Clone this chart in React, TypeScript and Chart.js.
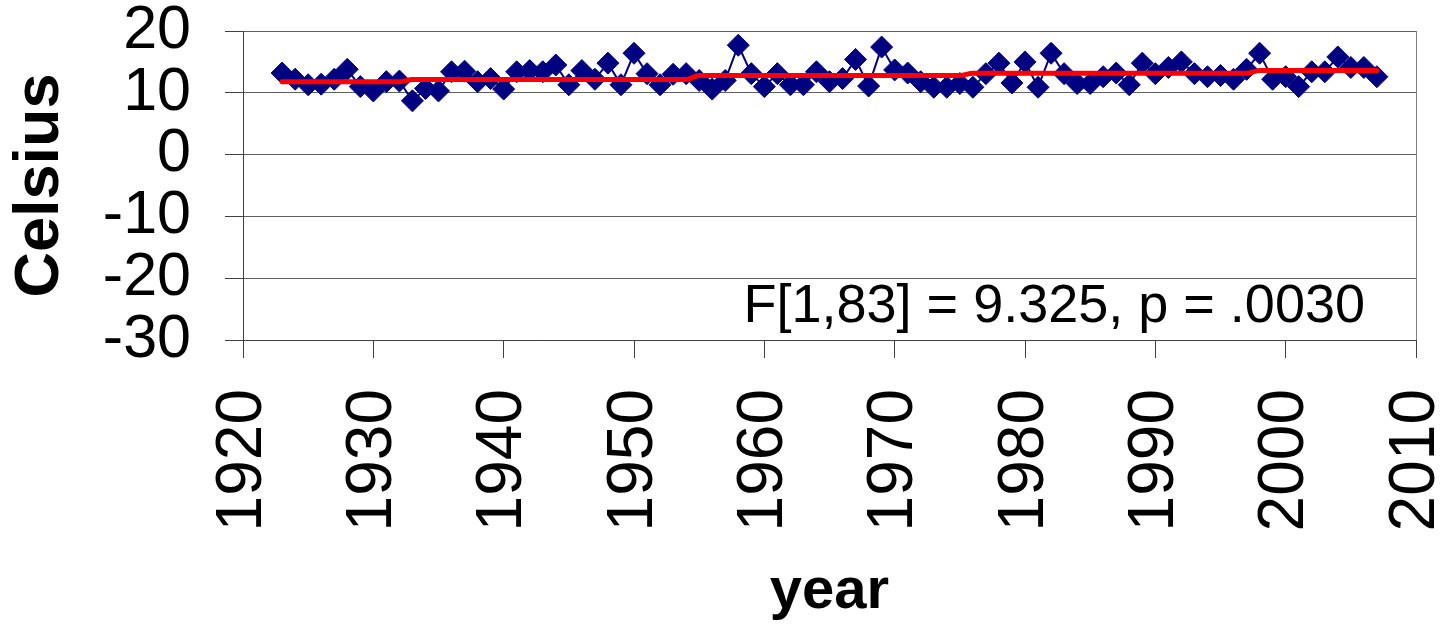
import React, { useEffect, useRef } from 'react';
import { Chart, registerables } from 'chart.js';

Chart.register(...registerables);

const YEARS = [
  1923, 1924, 1925, 1926, 1927, 1928, 1929, 1930, 1931, 1932,
  1933, 1934, 1935, 1936, 1937, 1938, 1939, 1940, 1941, 1942,
  1943, 1944, 1945, 1946, 1947, 1948, 1949, 1950, 1951, 1952,
  1953, 1954, 1955, 1956, 1957, 1958, 1959, 1960, 1961, 1962,
  1963, 1964, 1965, 1966, 1967, 1968, 1969, 1970, 1971, 1972,
  1973, 1974, 1975, 1976, 1977, 1978, 1979, 1980, 1981, 1982,
  1983, 1984, 1985, 1986, 1987, 1988, 1989, 1990, 1991, 1992,
  1993, 1994, 1995, 1996, 1997, 1998, 1999, 2000, 2001, 2002,
  2003, 2004, 2005, 2006, 2007,
];

const TEMPS = [
  13.2, 12.2, 11.3, 11.4, 12.2, 13.8, 11.0, 10.3, 11.8, 11.9,
  8.7, 10.7, 10.3, 13.4, 13.5, 11.8, 12.3, 10.6, 13.4, 13.6,
  13.4, 14.5, 11.3, 13.6, 12.2, 14.8, 11.3, 16.4, 13.1, 11.3,
  13.0, 13.1, 12.0, 10.6, 12.0, 17.7, 13.1, 11.0, 13.1, 11.3,
  11.3, 13.4, 11.8, 12.3, 15.4, 11.1, 17.4, 13.7, 13.2, 11.8,
  10.9, 10.9, 11.5, 10.9, 13.1, 14.8, 11.6, 15.0, 10.9, 16.4,
  13.1, 11.5, 11.5, 12.6, 13.2, 11.3, 14.8, 13.1, 14.1, 15.0,
  13.1, 12.6, 12.8, 12.2, 13.8, 16.4, 12.2, 12.6, 11.0, 13.4,
  13.4, 15.8, 14.1, 14.1, 12.6,
];

const TREND = [
  11.8, 11.8, 11.8, 11.8, 11.8, 11.8, 11.8, 11.8, 11.8, 11.8,
  12.15, 12.15, 12.15, 12.15, 12.15, 12.15, 12.15, 12.15, 12.15, 12.15,
  12.15, 12.15, 12.15, 12.15, 12.15, 12.15, 12.15, 12.15, 12.15, 12.15,
  12.15, 12.15, 12.8, 12.8, 12.8, 12.8, 12.8, 12.8, 12.8, 12.8,
  12.8, 12.8, 12.8, 12.8, 12.8, 12.8, 12.8, 12.8, 12.8, 12.8,
  12.8, 12.8, 12.8, 13.15, 13.15, 13.15, 13.15, 13.15, 13.15, 13.15,
  13.15, 13.15, 13.15, 13.15, 13.15, 13.15, 13.15, 13.15, 13.15, 13.15,
  13.15, 13.15, 13.15, 13.15, 13.15, 13.6, 13.6, 13.6, 13.6, 13.6,
  13.6, 13.6, 13.6, 13.6, 13.6,
];

const X_TICKS = [1920, 1930, 1940, 1950, 1960, 1970, 1980, 1990, 2000, 2010];
const Y_TICKS = [-30, -20, -10, 0, 10, 20];
const X_TITLE = 'year';
const Y_TITLE = 'Celsius';
const ANNOTATION = 'F[1,83] = 9.325, p = .0030';

const W = 1450;
const H = 634;
const FONT = "'Liberation Sans', Arial, Helvetica, sans-serif";

export default function App() {
  const ref = useRef<HTMLCanvasElement>(null);

  useEffect(() => {
    document.body.style.margin = '0';
    if (!ref.current) return;

    const clipPlugin = {
      id: 'clipBand',
      beforeDraw(c: any) {
        const ctx = c.ctx;
        ctx.save();
        ctx.beginPath();
        ctx.rect(0, 0, W, 531);
        ctx.rect(0, 560, W, H - 560);
        ctx.clip();
      },
      afterDraw(c: any) {
        c.ctx.restore();
      },
    };

    const annotPlugin = {
      id: 'annot',
      afterDatasetsDraw(c: any) {
        const { ctx, chartArea } = c;
        ctx.save();
        ctx.font = `54px ${FONT}`;
        ctx.fillStyle = '#000';
        ctx.textAlign = 'right';
        ctx.textBaseline = 'alphabetic';
        ctx.fillText(ANNOTATION, chartArea.right - 51, chartArea.bottom - 18);
        ctx.restore();
      },
    };

    const chart = new Chart(ref.current, {
      type: 'line',
      data: {
        datasets: [
          {
            label: 'trend',
            data: YEARS.map((y, i) => ({ x: y, y: TREND[i] })),
            borderColor: '#ff0000',
            backgroundColor: '#ff0000',
            borderWidth: 5,
            pointRadius: 0,
            cubicInterpolationMode: 'monotone',
            borderCapStyle: 'round',
            order: 0,
          },
          {
            label: 'temp',
            data: YEARS.map((y, i) => ({ x: y, y: TEMPS[i] })),
            borderColor: '#000080',
            backgroundColor: '#000080',
            borderWidth: 2,
            pointStyle: 'rectRot',
            pointRadius: 11,
            pointBorderWidth: 1,
            order: 1,
          },
        ],
      },
      options: {
        responsive: false,
        animation: false,
        devicePixelRatio: 1,
        layout: { padding: { top: 31, right: 34, left: 0, bottom: 0 } },
        plugins: { legend: { display: false }, tooltip: { enabled: false } },
        scales: {
          x: {
            type: 'linear',
            min: X_TICKS[0],
            max: X_TICKS[X_TICKS.length - 1],
            afterBuildTicks: (s: any) => {
              s.ticks = X_TICKS.map((v) => ({ value: v }));
            },
            ticks: {
              autoSkip: false,
              maxRotation: 90,
              minRotation: 90,
              padding: 31,
              color: '#000',
              font: { family: FONT, size: 64 },
              callback: (v: any) => String(v),
            },
            grid: {
              drawOnChartArea: true,
              color: (ctx: any) =>
                ctx.tick && ctx.tick.value === X_TICKS[X_TICKS.length - 1] ? '#808080' : 'rgba(0,0,0,0)',
              tickColor: '#404040',
              tickLength: 18,
              lineWidth: 1,
            },
            border: { color: '#404040', width: 1 },
            title: {
              display: true,
              text: X_TITLE,
              color: '#000',
              font: { family: FONT, size: 58, weight: 'bold' },
              padding: { top: 0, bottom: 7 },
            },
            afterFit: (s: any) => {
              s.height = 294;
              s.paddingLeft = 0;
              s.paddingRight = 0;
            },
          },
          y: {
            min: Y_TICKS[0],
            max: Y_TICKS[Y_TICKS.length - 1],
            afterBuildTicks: (s: any) => {
              s.ticks = Y_TICKS.map((v) => ({ value: v }));
            },
            ticks: {
              autoSkip: false,
              padding: 34,
              color: '#000',
              font: { family: FONT, size: 61 },
              callback: (v: any) => String(v),
            },
            grid: {
              color: '#606060',
              tickColor: '#404040',
              tickLength: 18,
              lineWidth: 1,
            },
            border: { color: '#404040', width: 1 },
            title: {
              display: true,
              text: Y_TITLE,
              color: '#000',
              font: { family: FONT, size: 63, weight: 'bold' },
              padding: { top: 3, bottom: 0 },
            },
            afterFit: (s: any) => {
              s.width = 243;
              s.paddingTop = 0;
              s.paddingBottom = 0;
            },
          },
        },
      },
      plugins: [clipPlugin, annotPlugin],
    } as any);

    return () => chart.destroy();
  }, []);

  return (
    <div style={{ position: 'absolute', left: 0, top: 0, width: W, height: H, background: '#fff' }}>
      <canvas ref={ref} width={W} height={H} style={{ display: 'block', width: W, height: H }} />
    </div>
  );
}
